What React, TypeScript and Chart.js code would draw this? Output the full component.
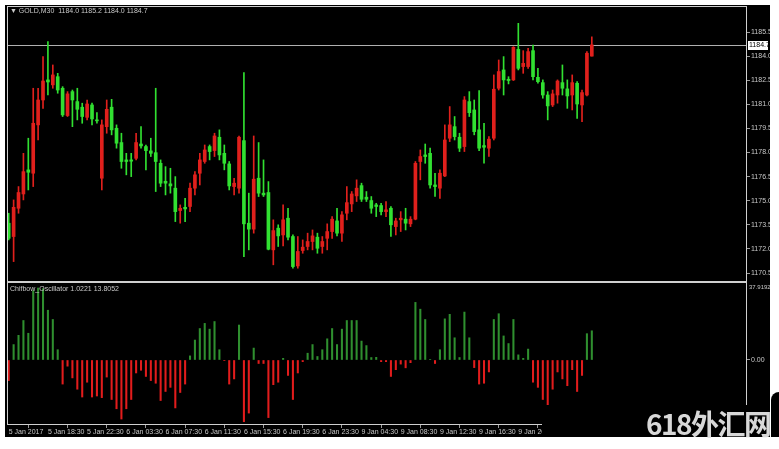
import React, { useEffect, useRef } from 'react';
import { Chart, registerables } from 'chart.js';

Chart.register(...registerables);

// ---- data (GOLD, M30) ----
const opens = [
  1173.60, 1172.77, 1174.53, 1175.42, 1176.92, 1176.71, 1179.72, 1181.27, 1182.52, 1182.21,
  1182.72, 1182.00, 1180.30, 1181.79, 1181.17, 1180.82, 1180.19, 1180.96, 1180.03, 1176.40,
  1179.61, 1180.82, 1179.51, 1178.62, 1177.54, 1177.54, 1177.64, 1178.53, 1178.37, 1178.10,
  1177.99, 1177.33, 1176.21, 1176.05, 1175.78, 1174.39, 1174.59, 1174.64, 1175.78, 1176.71,
  1177.44, 1178.37, 1178.12, 1178.95, 1177.95, 1177.29, 1175.88, 1175.78, 1178.74, 1173.60,
  1173.23, 1176.40, 1175.47, 1175.51, 1171.94, 1173.29, 1172.87, 1173.91, 1172.77, 1170.94,
  1171.90, 1172.15, 1172.46, 1172.73, 1172.15, 1172.66, 1173.08, 1173.74, 1172.98, 1174.22,
  1174.80, 1175.30, 1175.94, 1175.22, 1175.01, 1174.74, 1174.70, 1174.32, 1174.53, 1173.39,
  1173.81, 1173.85, 1173.56, 1173.85, 1177.44, 1177.85, 1177.95, 1175.98, 1175.78, 1176.54,
  1178.89, 1179.61, 1178.95, 1178.37, 1181.17, 1180.65, 1179.41, 1178.43, 1178.27, 1178.89,
  1182.00, 1183.14, 1182.56, 1182.52, 1184.42, 1183.35, 1183.35, 1184.34, 1182.68, 1182.35,
  1181.58, 1180.96, 1181.58, 1182.35, 1181.96, 1181.58, 1182.31, 1180.96, 1181.58, 1184.00,
];
const highs = [
  1174.22, 1175.05, 1175.88, 1177.95, 1178.89, 1182.00, 1182.00, 1183.97, 1184.90, 1183.45,
  1182.93, 1182.10, 1181.79, 1181.89, 1182.00, 1181.07, 1181.27, 1181.07, 1180.48, 1180.03,
  1181.27, 1181.31, 1179.72, 1179.20, 1177.95, 1177.95, 1179.20, 1179.61, 1178.47, 1178.89,
  1182.00, 1177.54, 1177.12, 1177.02, 1176.50, 1174.74, 1175.15, 1176.09, 1176.81, 1177.95,
  1178.47, 1178.47, 1179.20, 1179.41, 1178.47, 1177.44, 1176.40, 1179.03, 1182.97, 1175.47,
  1179.03, 1178.62, 1177.54, 1176.19, 1173.81, 1173.50, 1174.74, 1174.53, 1172.87, 1172.77,
  1172.56, 1172.98, 1173.18, 1172.98, 1172.77, 1173.56, 1174.01, 1174.53, 1174.32, 1175.88,
  1175.57, 1176.30, 1176.09, 1175.57, 1175.26, 1174.84, 1174.84, 1174.95, 1174.64, 1173.91,
  1174.32, 1174.53, 1174.01, 1177.44, 1178.16, 1178.53, 1178.27, 1176.71, 1176.92, 1179.72,
  1180.86, 1180.24, 1179.20, 1181.48, 1181.79, 1181.27, 1181.85, 1179.82, 1178.99, 1182.83,
  1183.76, 1183.97, 1182.72, 1184.59, 1186.04, 1184.34, 1184.49, 1184.69, 1183.24, 1182.52,
  1181.79, 1181.89, 1182.52, 1183.45, 1182.52, 1182.83, 1182.41, 1181.89, 1184.28, 1185.20,
];
const lows = [
  1172.56, 1171.21, 1174.22, 1175.05, 1175.67, 1175.88, 1178.78, 1180.75, 1181.58, 1182.00,
  1181.69, 1180.24, 1180.24, 1179.61, 1180.03, 1179.82, 1180.03, 1179.72, 1179.82, 1175.67,
  1179.20, 1179.10, 1178.27, 1177.02, 1176.61, 1176.50, 1177.54, 1178.27, 1176.92, 1177.75,
  1175.57, 1175.88, 1175.36, 1175.47, 1173.70, 1173.60, 1173.70, 1174.32, 1175.36, 1175.98,
  1177.33, 1177.54, 1177.75, 1177.54, 1176.92, 1175.67, 1175.36, 1175.47, 1171.52, 1171.94,
  1172.98, 1175.26, 1175.26, 1171.94, 1171.01, 1172.15, 1172.19, 1172.56, 1170.80, 1170.80,
  1171.73, 1171.94, 1171.94, 1171.73, 1171.73, 1171.94, 1172.66, 1172.81, 1172.46, 1173.81,
  1174.32, 1174.95, 1174.95, 1174.95, 1174.22, 1174.01, 1174.12, 1174.01, 1172.77, 1172.87,
  1173.08, 1173.18, 1173.39, 1173.81, 1176.30, 1177.33, 1175.78, 1175.26, 1175.15, 1176.50,
  1178.68, 1178.78, 1178.06, 1178.06, 1180.24, 1179.10, 1178.12, 1177.33, 1177.75, 1178.78,
  1181.89, 1181.58, 1182.27, 1182.48, 1183.14, 1182.93, 1183.24, 1182.52, 1182.31, 1181.38,
  1180.03, 1180.86, 1181.07, 1181.58, 1180.75, 1180.65, 1180.13, 1179.92, 1181.52, 1184.00,
];
const closes = [
  1172.66, 1174.59, 1175.51, 1176.81, 1176.77, 1179.82, 1181.27, 1182.45, 1182.39, 1182.83,
  1181.89, 1180.34, 1181.65, 1181.27, 1180.69, 1180.24, 1181.02, 1180.09, 1179.97, 1179.72,
  1180.69, 1179.41, 1178.58, 1177.44, 1177.44, 1177.46, 1178.62, 1178.41, 1178.12, 1177.95,
  1177.44, 1176.09, 1176.09, 1175.92, 1174.32, 1174.53, 1174.49, 1175.78, 1176.61, 1177.54,
  1178.16, 1178.06, 1179.03, 1177.85, 1177.33, 1175.92, 1176.09, 1178.95, 1173.56, 1173.23,
  1176.34, 1175.47, 1175.36, 1171.98, 1173.14, 1172.81, 1173.81, 1172.73, 1170.90, 1171.84,
  1172.11, 1172.46, 1172.81, 1172.04, 1172.46, 1173.08, 1173.85, 1172.98, 1174.12, 1174.88,
  1175.42, 1175.78, 1175.09, 1175.09, 1174.53, 1174.64, 1174.32, 1174.43, 1173.50, 1173.74,
  1173.91, 1173.60, 1173.85, 1177.33, 1177.75, 1177.75, 1175.98, 1175.88, 1176.71, 1178.78,
  1179.72, 1178.99, 1178.27, 1181.27, 1180.48, 1179.30, 1178.27, 1178.33, 1178.83, 1181.94,
  1183.04, 1182.52, 1182.48, 1184.55, 1183.24, 1183.55, 1184.28, 1182.72, 1182.41, 1181.58,
  1180.90, 1181.65, 1182.45, 1182.00, 1181.52, 1182.35, 1181.02, 1181.73, 1184.18, 1184.70,
];
const osc = [
  -10, 7.5, 12, 19.2, 13, 33.7, 35, 34.7, 24.2, 19.7,
  5, -11.7, -3, -8.7, -14.2, -18, -10.8, -18, -17.5, -18.3,
  -8.3, -19.2, -23.7, -28.7, -23.7, -19.2, -6.3, -5, -8, -10,
  -11.3, -19.7, -15.3, -13.3, -23.3, -15.8, -11.7, 2, 9.7, 15.3,
  17.8, 15, 18.7, 5, -0.3, -11.7, -9.2, 17, -30, -25.8,
  5.8, -1.7, -1.7, -28, -12, -10.8, 0.8, -7.5, -19.2, -6.3,
  -0.8, 3.3, 7.5, 1.7, 5, 10.3, 15.3, 7.5, 15, 19.2,
  19.2, 19.2, 9.2, 7, 1.2, 1.3, -0.8, -0.8, -8, -4.7,
  -2, -3.8, -1.3, 28, 24.7, 19.7, 0.2, -1.7, 5, 20,
  22.2, 10.8, 1.2, 23.3, 10.8, -3.7, -11.7, -11.3, -5.8, 19.7,
  22.5, 11.7, 8, 19.7, 2.5, 0.8, 5.3, -10.8, -13.3, -19.2,
  -22.5, -14.2, -5.8, -9.2, -12.5, -4.7, -15.3, -7.5, 12.8, 14.2,
];
const priceTicks = [1170.5, 1172.0, 1173.5, 1175.0, 1176.5, 1178.0, 1179.5, 1181.0, 1182.5, 1184.0, 1185.5];
const xTickIndex = [0, 8, 16, 24, 32, 40, 48, 56, 64, 72, 80, 88, 96, 104];
const xTickLabels = [
  '5 Jan 2017', '5 Jan 18:30', '5 Jan 22:30', '6 Jan 03:30', '6 Jan 07:30', '6 Jan 11:30', '6 Jan 15:30',
  '6 Jan 19:30', '6 Jan 23:30', '9 Jan 04:30', '9 Jan 08:30', '9 Jan 12:30', '9 Jan 16:30', '9 Jan 20:30',
];
const oscTop = 37.9192;
const oscBottom = -31.6;
const symbol = 'GOLD,M30';
const indicatorName = 'Chifbow_Oscillator';
const indicatorParams = ['1.0221', '13.8052'];

// ---- styles ----
const FONT = '"Liberation Sans Narrow", "Liberation Sans", Arial, sans-serif';
const TEXT = '#c8c8c8';
const FRAME = '#cfcfcf';
const TICK = '#9a9a9a';
const C_UP = '#e0201c';
const C_DN = '#31e031';
const O_UP = '#2f8f2f';
const O_DN = '#e21c1c';
const X_MIN = -0.35;
const X_MAX = 150.67;

const framePlugin = {
  id: 'frame',
  afterDraw(chart: any) {
    const { ctx, chartArea: a } = chart;
    ctx.save();
    ctx.strokeStyle = FRAME;
    ctx.lineWidth = 1;
    ctx.strokeRect(a.left + 0.5, a.top + 0.5, a.right - a.left - 1, a.bottom - a.top - 1);
    ctx.restore();
  },
};

const priceLinePlugin = {
  id: 'priceLine',
  beforeDatasetsDraw(chart: any) {
    const { ctx, chartArea: a } = chart;
    const y = Math.round(chart.scales.y.getPixelForValue(closes[closes.length - 1])) + 0.5;
    ctx.save();
    ctx.strokeStyle = '#b0b0b0';
    ctx.lineWidth = 1;
    ctx.beginPath();
    ctx.moveTo(a.left, y);
    ctx.lineTo(a.right, y);
    ctx.stroke();
    ctx.restore();
  },
  afterDraw(chart: any) {
    const { ctx, chartArea: a } = chart;
    const last = closes[closes.length - 1];
    const y = Math.round(chart.scales.y.getPixelForValue(last));
    ctx.save();
    ctx.fillStyle = '#ffffff';
    ctx.fillRect(a.right + 1, y - 4, 20, 9);
    ctx.fillStyle = '#000000';
    ctx.font = '7px ' + FONT;
    ctx.textBaseline = 'middle';
    ctx.textAlign = 'left';
    ctx.fillText(last.toFixed(1), a.right + 2, y + 0.5);
    ctx.restore();
  },
};

const oscTopLabelPlugin = {
  id: 'oscTopLabel',
  afterDraw(chart: any) {
    const { ctx, chartArea: a } = chart;
    const y = chart.scales.y.getPixelForValue(oscTop);
    ctx.save();
    ctx.fillStyle = TEXT;
    ctx.font = '6px ' + FONT;
    ctx.textBaseline = 'top';
    ctx.textAlign = 'left';
    ctx.fillText(oscTop.toFixed(4), a.right + 2, y + 2);
    ctx.restore();
  },
};

export default function App() {
  const topRef = useRef<HTMLCanvasElement>(null);
  const botRef = useRef<HTMLCanvasElement>(null);

  useEffect(() => {
    const up = closes.map((c, i) => c >= opens[i]);
    const candleColors = up.map((u) => (u ? C_UP : C_DN));

    const main = new Chart(topRef.current as HTMLCanvasElement, {
      type: 'bar',
      data: {
        datasets: [
          {
            label: 'body',
            data: opens.map((o, i) => ({ x: i, y: [o, closes[i]] })) as any,
            backgroundColor: candleColors,
            barThickness: 3,
            minBarLength: 1,
            grouped: false,
            borderWidth: 0,
          },
          {
            label: 'wick',
            data: lows.map((l, i) => ({ x: i, y: [l, highs[i]] })) as any,
            backgroundColor: candleColors,
            barThickness: 1,
            minBarLength: 1,
            grouped: false,
            borderWidth: 0,
          },
        ],
      },
      options: {
        animation: false,
        responsive: false,
        devicePixelRatio: 1,
        layout: { padding: 0 },
        plugins: { legend: { display: false }, tooltip: { enabled: false } },
        scales: {
          x: { type: 'linear', min: X_MIN, max: X_MAX, offset: false, display: false },
          y: {
            position: 'right',
            min: 1169.94,
            max: 1187.12,
            afterBuildTicks: (s: any) => {
              s.ticks = priceTicks.map((v) => ({ value: v }));
            },
            afterFit: (s: any) => {
              s.width = 23;
              s.paddingTop = 0;
              s.paddingBottom = 0;
            },
            ticks: {
              autoSkip: false,
              color: TEXT,
              padding: 1,
              font: { family: FONT, size: 7 },
              callback: (v: any) => Number(v).toFixed(1),
            },
            grid: { drawOnChartArea: false, drawTicks: true, tickLength: 3, color: TICK },
            border: { display: false },
          },
        },
      } as any,
      plugins: [framePlugin, priceLinePlugin],
    });

    const ind = new Chart(botRef.current as HTMLCanvasElement, {
      type: 'bar',
      data: {
        datasets: [
          {
            label: indicatorName,
            data: osc.map((v, i) => ({ x: i, y: v })) as any,
            backgroundColor: osc.map((v) => (v >= 0 ? O_UP : O_DN)),
            barThickness: 1.4,
            grouped: false,
            borderWidth: 0,
          },
        ],
      },
      options: {
        animation: false,
        responsive: false,
        devicePixelRatio: 1,
        layout: { padding: 0 },
        plugins: { legend: { display: false }, tooltip: { enabled: false } },
        scales: {
          x: {
            type: 'linear',
            position: 'bottom',
            min: X_MIN,
            max: X_MAX,
            offset: false,
            afterBuildTicks: (s: any) => {
              s.ticks = xTickIndex.map((v) => ({ value: v }));
            },
            afterFit: (s: any) => {
              s.height = 12;
              s.paddingLeft = 0;
              s.paddingRight = 0;
            },
            ticks: {
              autoSkip: false,
              maxRotation: 0,
              minRotation: 0,
              align: 'start',
              padding: 0,
              color: TEXT,
              font: { family: FONT, size: 7 },
              callback: (_v: any, i: number) => xTickLabels[i],
            },
            grid: { drawOnChartArea: false, drawTicks: true, tickLength: 3, color: TICK },
            border: { display: false },
          },
          y: {
            position: 'right',
            min: oscBottom,
            max: oscTop,
            afterBuildTicks: (s: any) => {
              s.ticks = [{ value: 0 }];
            },
            afterFit: (s: any) => {
              s.width = 23;
              s.paddingTop = 0;
              s.paddingBottom = 0;
            },
            ticks: {
              autoSkip: false,
              color: TEXT,
              padding: 1,
              font: { family: FONT, size: 7 },
              callback: (v: any) => Number(v).toFixed(2),
            },
            grid: { drawOnChartArea: false, drawTicks: true, tickLength: 3, color: TICK },
            border: { display: false },
          },
        },
      } as any,
      plugins: [framePlugin, oscTopLabelPlugin],
    });

    return () => {
      main.destroy();
      ind.destroy();
    };
  }, []);

  const n = closes.length;
  const header =
    symbol + '  ' + [opens[n - 1], highs[n - 1], lows[n - 1], closes[n - 1]].map((v) => v.toFixed(1)).join(' ');

  return (
    <div style={{ position: 'absolute', left: 0, top: 0, width: 779, height: 449, background: '#ffffff', overflow: 'hidden' }}>
      <div style={{ position: 'absolute', left: 5, top: 5, width: 765, height: 432, background: '#000000' }} />
      <canvas ref={topRef} width={763} height={276} style={{ position: 'absolute', left: 7, top: 6, width: 763, height: 276 }} />
      <canvas ref={botRef} width={763} height={155} style={{ position: 'absolute', left: 7, top: 282, width: 763, height: 155 }} />
      <div style={{ position: 'absolute', left: 10, top: 7, color: TEXT, fontFamily: FONT, fontSize: 7, lineHeight: '8px', whiteSpace: 'pre' }}>
        {'\u25BC ' + header}
      </div>
      <div style={{ position: 'absolute', left: 10, top: 285, color: TEXT, fontFamily: FONT, fontSize: 7, lineHeight: '8px', whiteSpace: 'pre' }}>
        {indicatorName + ' ' + indicatorParams.join(' ')}
      </div>
      <div style={{ position: 'absolute', left: 542, top: 405, width: 228, height: 32, background: '#000000' }} />
      <div
        style={{
          position: 'absolute',
          left: 646,
          top: 409,
          color: '#d8d8d8',
          fontFamily: '"Noto Sans CJK SC", "Noto Sans", sans-serif',
          fontWeight: 700,
          fontSize: 28,
          lineHeight: '28px',
          letterSpacing: '-1.5px',
          whiteSpace: 'pre',
        }}
      >
        618外汇网
      </div>
      <div style={{ position: 'absolute', left: 771, top: 392, width: 8, height: 45, background: '#000000', borderTopLeftRadius: 8 }} />
    </div>
  );
}
